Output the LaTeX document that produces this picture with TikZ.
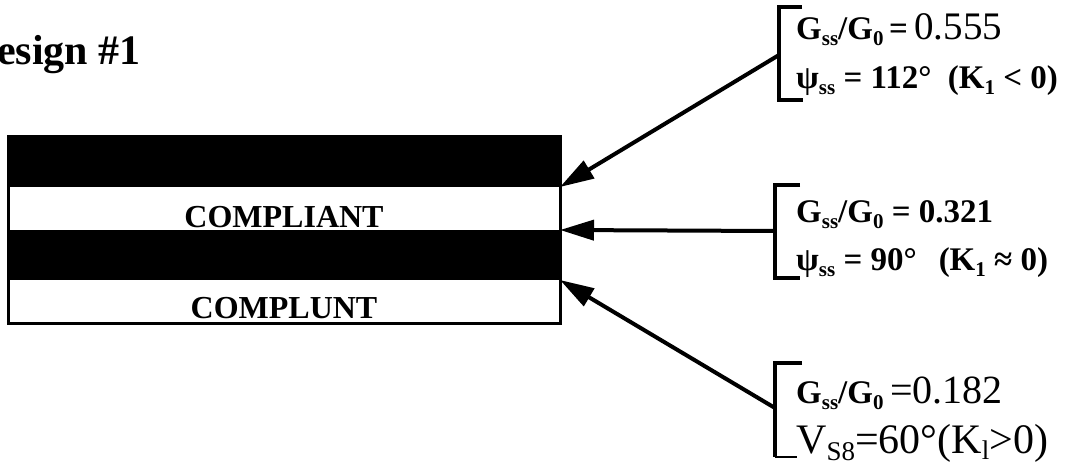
\documentclass[tikz,border=0pt]{standalone}
\usepackage{fontspec}
\setmainfont{Liberation Serif}
\usetikzlibrary{arrows.meta}
% lowered, resized piece of text: #1 drop, #2 size in pt, #3 text
\newcommand\dn[3]{\raisebox{-#1}{\fontsize{#2}{#2}\selectfont #3}}
\newcommand\fs[1]{\fontsize{#1}{#1}\selectfont}
\begin{document}
\begin{tikzpicture}[x=1pt,y=-1pt,
  band/.style={draw=none,inner sep=0pt,outer sep=0pt,minimum width=552pt,anchor=north west},
  layername/.style={inner sep=0pt,anchor=base,font=\bfseries\fs{32}},
  conn/.style={line width=4pt,-{Triangle[length=34pt,width=20pt]}},
  brk/.style={line width=4pt},
  val/.style={inner sep=0pt,anchor=base west}]
\useasboundingbox (0,0) rectangle (1067,465);

% heading
\node[inner sep=0pt,anchor=base east,font=\bfseries\fs{42}] (title) at (141,65) {Design \#1};

% layered laminate
\node[band,fill=black,minimum height=50pt] (l1) at (8,137) {};
\node[band,fill=white,minimum height=43pt] (l2) at (l1.south west) {};
\node[band,fill=black,minimum height=50pt] (l3) at (l2.south west) {};
\node[band,fill=white,minimum height=43pt] (l4) at (l3.south west) {};
\draw[line width=3pt] (l1.north west) rectangle (l4.south east);
\node[layername] (n2) at (284,227) {COMPLIANT};
\node[layername] (n4) at (284,318) {COMPLUNT};

% brackets
\draw[brk] (802,7) -- (779,7) -- (779,100) -- (803,100);
\coordinate (j1) at (779,55);
\draw[brk] (800,185) -- (775,185) -- (775,278) -- (800,278);
\coordinate (j2) at (775,231);
\draw[brk] (802,363) -- (775,363) -- (775,457);
\draw[line width=2pt] (775,457) -- (797,457);
\coordinate (j3) at (775,408);

% leaders to the interfaces
\draw[conn] (j1) -- (l1.south east);
\draw[conn] (j2) -- (l2.south east);
\draw[conn] (j3) -- (l3.south east);

% values
\node[val] (a1) at (796,40) {{\bfseries\fs{33}G\dn{6pt}{21}{ss}/G\dn{6pt}{21}{0}\,=}\fs{39}\,0.555};
\node[val] (a2) at (796,89) {\bfseries\fs{33}ψ\dn{6pt}{21}{ss} = 112°\enspace(K\dn{6pt}{21}{1} < 0)};
\node[val] (b1) at (796,222) {\bfseries\fs{33}G\dn{6pt}{21}{ss}/G\dn{6pt}{21}{0} = 0.321};
\node[val] (b2) at (796,270) {\bfseries\fs{33}ψ\dn{6pt}{21}{ss} = 90°\enspace\,(K\dn{6pt}{21}{1} ≈ 0)};
\node[val] (c1) at (796,403) {{\bfseries\fs{33}G\dn{6pt}{21}{ss}/G\dn{6pt}{21}{0}}\fs{40}\,=0.182};
\node[val] (c2) at (796,453) {\fs{42}V\dn{7pt}{27}{S8}=60°(K\dn{6pt}{27}{l}>0)};
\end{tikzpicture}
\end{document}
